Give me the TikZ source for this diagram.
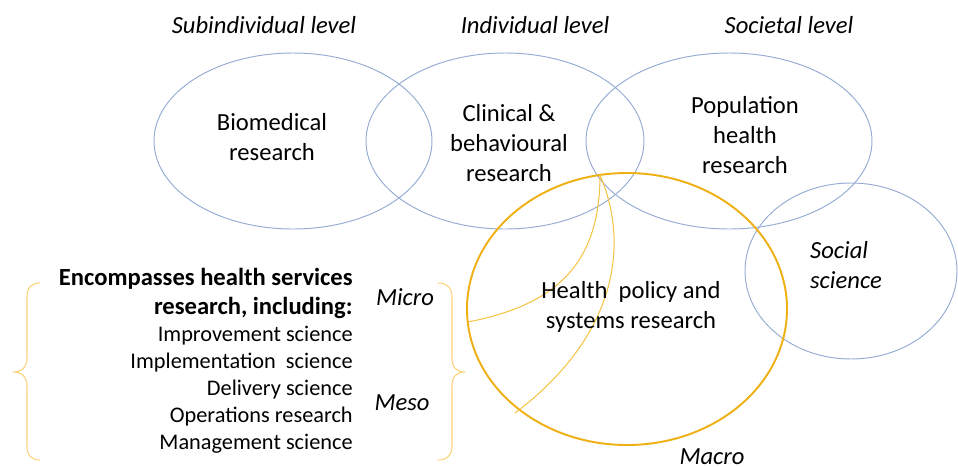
\documentclass[tikz,border=0pt]{standalone}
\usepackage{fontspec}
\setmainfont{Carlito}
\usetikzlibrary{positioning}
\definecolor{ringblue}{RGB}{150,172,212}
\definecolor{ringgold}{RGB}{238,176,20}
\definecolor{thingold}{RGB}{245,196,70}
\definecolor{bracegold}{RGB}{250,210,120}

\begin{document}
\begin{tikzpicture}[x=0.02cm,y=-0.02cm,
		levellabel/.style={font=\fontsize{14}{17}\selectfont\itshape, inner sep=0pt},
		fieldlabel/.style={font=\fontsize{14}{17}\selectfont, align=center, inner sep=0pt},
		brace/.style={color=bracegold, line width=0.6pt}]
			\useasboundingbox (0,0) rectangle (958,467);
			% the four research ellipses
			\draw[color=ringblue, line width=0.55pt] (293,141) ellipse [x radius=139, y radius=88];
			\draw[color=ringblue, line width=0.55pt] (505,141) ellipse [x radius=139, y radius=88];
			\draw[color=ringblue, line width=0.55pt] (729,141) ellipse [x radius=143, y radius=88];
			\draw[color=ringblue, line width=0.55pt] (851,271) ellipse [x radius=106, y radius=88];
			% health policy and systems research
			\draw[color=ringgold, line width=1.1pt] (627,309) ellipse [x radius=160, y radius=136];
			\coordinate (split) at (600,175);
			\coordinate (microend) at (468,322);
			\coordinate (mesoend) at (515,413);
			\draw[color=thingold, line width=0.6pt]
				(split) .. controls (600,265) and (555,305) .. (microend);
			\draw[color=thingold, line width=0.6pt]
				(split) .. controls (632,250) and (612,340) .. (mesoend);
			% braces
			\draw[brace]
				(40,283) .. controls (31,283) and (27,288) .. (27,297)
				-- (27,358) .. controls (27,367) and (22,372) .. (13,372)
				.. controls (22,372) and (27,377) .. (27,386)
				-- (27,446) .. controls (27,455) and (31,460) .. (40,460);
			\draw[brace]
				(438,283) .. controls (447,283) and (452,288) .. (452,297)
				-- (452,358) .. controls (452,367) and (456,372) .. (465,372)
				.. controls (456,372) and (452,377) .. (452,386)
				-- (452,446) .. controls (452,455) and (447,460) .. (438,460);
			% labels
			\node[levellabel] (subind) at (264,25) {Subindividual level};
			\node[levellabel] (indiv) at (535,25) {Individual level};
			\node[levellabel] (societal) at (789,25) {Societal level};
			\node[fieldlabel] (biomed) at (272,137) {Biomedical\\research};
			\node[fieldlabel] (clinical) at (509,143) {Clinical \&\\behavioural\\research};
			\node[fieldlabel] (population) at (745,135) {Population\\health\\research};
			\node[fieldlabel, align=left, font=\fontsize{14}{17}\selectfont\itshape] (social) at (846,265) {Social\\science};
			\node[fieldlabel] (hpsr) at (631,307) {Health~ policy and\\systems research};
			\node[anchor=east, align=right, inner sep=0pt,
				font=\fontsize{14}{16.5}\selectfont\bfseries] (hsr) at (353,293)
				{Encompasses health services\\research, including:};
			\node[anchor=east, align=right, inner sep=0pt,
				font=\fontsize{12.7}{15.4}\selectfont] (hsrlist) at (353,390)
				{Improvement science\\Implementation~ science\\Delivery science\\Operations research\\Management science};
			\node[levellabel] (micro) at (405,297) {Micro};
			\node[levellabel] (meso) at (402,403) {Meso};
			\node[levellabel] (macro) at (712,457) {Macro};
		\end{tikzpicture}
\end{document}
